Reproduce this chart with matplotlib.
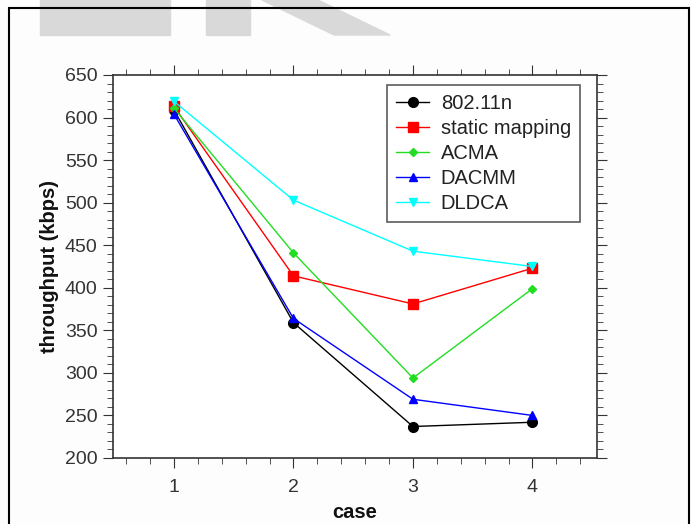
import matplotlib.pyplot as plt
from matplotlib.patches import Polygon, Rectangle
from matplotlib.ticker import MultipleLocator

plt.rcParams['font.family'] = ['Liberation Sans', 'DejaVu Sans']

cases = [1, 2, 3, 4]
wifi_802_11n = [609, 359, 237, 242]
static_mapping = [613, 414, 381, 423]
acma = [611, 441, 294, 399]
dacmm = [604, 364, 269, 250]
dldca = [619, 503, 443, 425]

fig = plt.figure(figsize=(6.91, 5.24), dpi=100)
fig.patch.set_facecolor('#fdfdfd')

# watermark shapes at the top
wm = '#d9d9d9'
fig.patches.append(Rectangle((40/691, 1-35/524), 130/691, 35/524, transform=fig.transFigure, color=wm, zorder=0))
fig.patches.append(Rectangle((206/691, 1-35/524), 44/691, 35/524, transform=fig.transFigure, color=wm, zorder=0))
fig.patches.append(Polygon([(262/691, 1), (318/691, 1), (390/691, 1-35/524), (334/691, 1-35/524)],
                           closed=True, transform=fig.transFigure, color=wm, zorder=0))
# outer frame (bottom edge runs off the image)
fig.patches.append(Rectangle((9/691, -0.05), 680/691, 1.05-8/524, transform=fig.transFigure,
                             fill=False, edgecolor='black', linewidth=1.5, zorder=1))

ax = fig.add_axes([113/691, 66/524, 484/691, 383/524])

ax.plot(cases, wifi_802_11n, color='black', marker='o', markersize=7, linewidth=1, label='802.11n')
ax.plot(cases, static_mapping, color='red', marker='s', markersize=7, linewidth=1, label='static mapping')
ax.plot(cases, acma, color='#22dd22', marker='D', markersize=4, linewidth=1, label='ACMA')
ax.plot(cases, dacmm, color='blue', marker='^', markersize=6, linewidth=1, label='DACMM')
ax.plot(cases, dldca, color='cyan', marker='v', markersize=6, linewidth=1, label='DLDCA')

ax.set_xlim(0.49, 4.54)
ax.set_ylim(200, 650)
ax.set_xticks(cases)
ax.xaxis.set_minor_locator(MultipleLocator(0.2))
ax.yaxis.set_major_locator(MultipleLocator(50))
ax.yaxis.set_minor_locator(MultipleLocator(10))
ax.tick_params(which='both', direction='out', top=True, right=True, labelsize=14,
               color='#333333', labelcolor='#333333')
ax.tick_params(which='major', length=7)
ax.tick_params(which='minor', length=4)
ax.tick_params(axis='x', which='major', pad=8)
ax.tick_params(axis='y', which='major', pad=4)
for s in ax.spines.values():
    s.set_color('#333333')
    s.set_linewidth(1.2)

ax.set_xlabel('case', fontsize=14.5, fontweight='bold', labelpad=5, color='#111111')
ax.set_ylabel('throughput (kbps)', fontsize=14.5, fontweight='bold', labelpad=4, color='#111111')

leg = ax.legend(loc='upper right', bbox_to_anchor=(0.965, 0.975), borderaxespad=0, fontsize=14.5,
                frameon=True, fancybox=False, edgecolor='#333333', handlelength=1.6, borderpad=0.45,
                labelspacing=0.3, handletextpad=0.6)
leg.get_frame().set_linewidth(1.2)
for t in leg.get_texts():
    t.set_color('#222222')

fig.savefig('out.png', dpi=100)
